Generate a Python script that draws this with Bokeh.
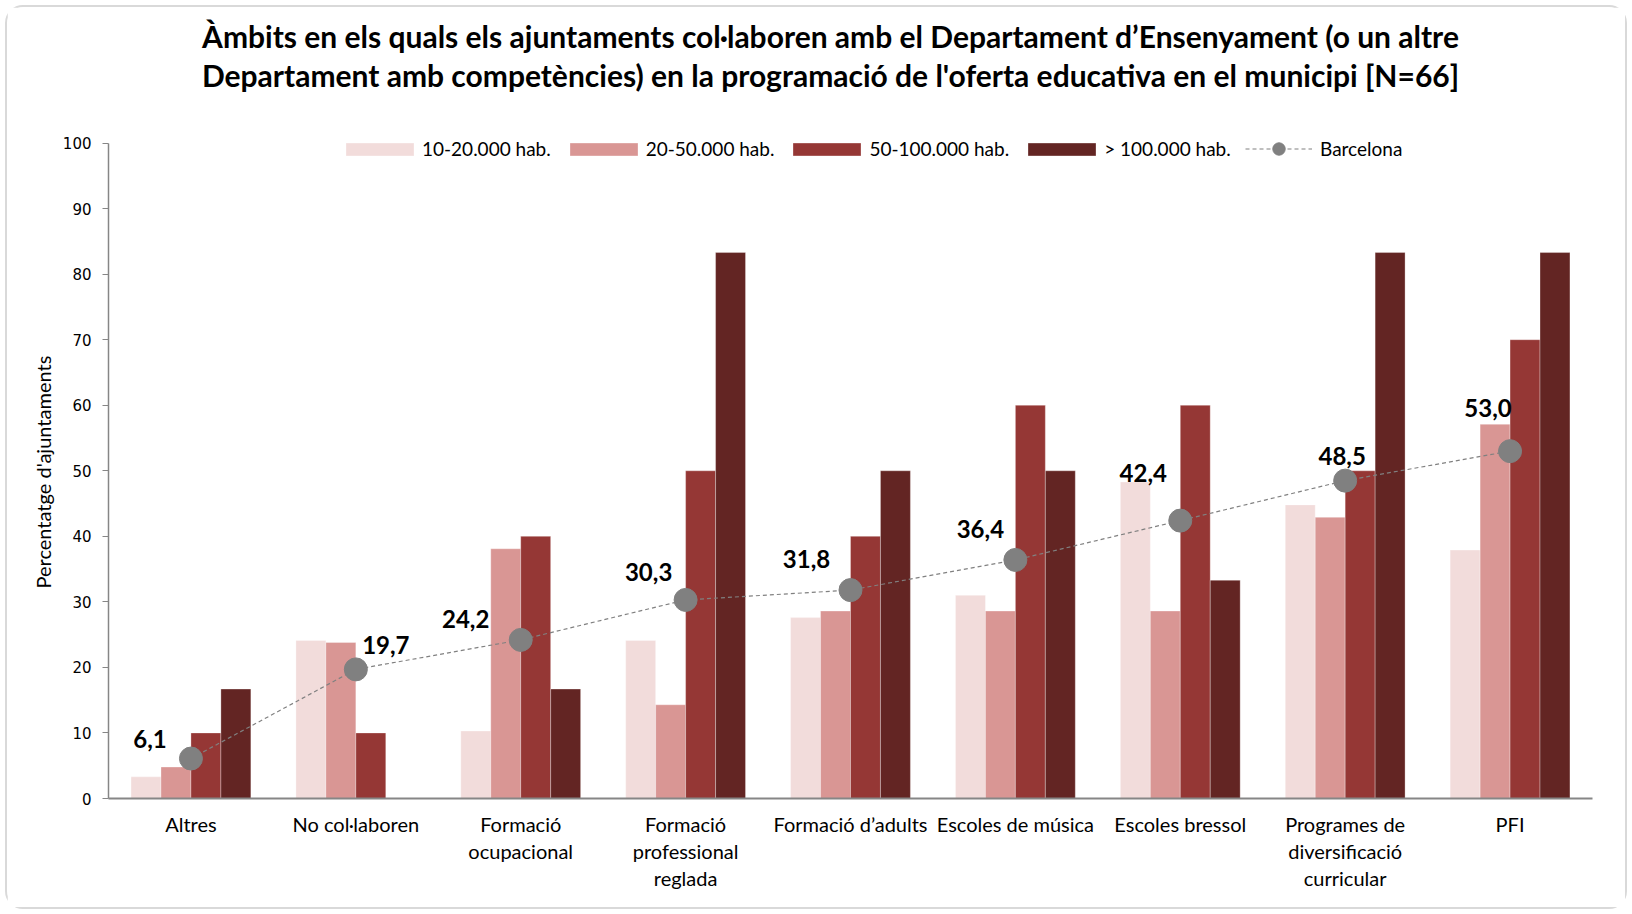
from bokeh.plotting import figure
from bokeh.models import ColumnDataSource, Label, Legend, LegendItem, FixedTicker, LinearAxis, Title
from bokeh.embed import file_html
from bokeh.resources import INLINE
from bokeh.core.properties import value

categories = ["Altres", "No col·laboren", "Formació ocupacional", "Formació professional reglada",
              "Formació d’adults", "Escoles de música", "Escoles bressol",
              "Programes de diversificació curricular", "PFI"]
tick_labels = ["Altres", "No col·laboren", "Formació\nocupacional", "Formació\nprofessional\nreglada",
               "Formació d’adults", "Escoles de música", "Escoles bressol",
               "Programes de\ndiversificació\ncurricular", "PFI"]
hab_10_20 = [3.3, 24.1, 10.3, 24.1, 27.6, 31.0, 48.3, 44.8, 37.9]
hab_20_50 = [4.8, 23.8, 38.1, 14.3, 28.6, 28.6, 28.6, 42.9, 57.1]
hab_50_100 = [10.0, 10.0, 40.0, 50.0, 40.0, 60.0, 60.0, 50.0, 70.0]
hab_100 = [16.7, 0.0, 16.7, 83.3, 50.0, 50.0, 33.3, 83.3, 83.3]
barcelona = [6.1, 19.7, 24.2, 30.3, 31.8, 36.4, 42.4, 48.5, 53.0]
series_names = ["10-20.000 hab.", "20-50.000 hab.", "50-100.000 hab.", "> 100.000 hab."]
line_name = "Barcelona"
title_lines = ["Àmbits en els quals els ajuntaments col·laboren amb el Departament d’Ensenyament (o un altre",
               "Departament amb competències) en la programació de l'oferta educativa en el municipi [N=66]"]
y_title = "Percentatge d'ajuntaments"
y_ticks = [0, 10, 20, 30, 40, 50, 60, 70, 80, 90, 100]

colors = ["#F2DCDB", "#D99694", "#953735", "#632523"]
label_dx = [-41, 30, -55, -37, -44, -35, -37, -3, -22]
label_dy = [-20, -24, -21, -28, -31, -31, -48, -25, -43]

n = len(categories)
xpos = [i + 0.5 for i in range(n)]          # category centres on a numeric scale
offsets = [-0.2725, -0.0908, 0.0908, 0.2725]
bar_w = 0.1816

data = dict(x=xpos, s1=hab_10_20, s2=hab_20_50, s3=hab_50_100, s4=hab_100,
            bcn=barcelona, lab=[f"{v:.1f}".replace(".", ",") for v in barcelona],
            dx=label_dx, dy=label_dy)
for k, off in enumerate(offsets):
    data[f"x{k+1}"] = [x + off for x in xpos]
src = ColumnDataSource(data)

FONT = "Lato"
W, H = 1622, 904
MB_L, MB_R, MB_B = 101, 37, 113
frame_h = H - MB_B            # frame runs from canvas top to the x axis
px_per_unit = (frame_h - 135.6) / 100.0
y_top = frame_h / px_per_unit

p = figure(x_range=(0, n), y_range=(0, y_top), width=W, height=H,
           output_backend="svg", toolbar_location=None,
           min_border_left=MB_L, min_border_right=MB_R, min_border_top=0, min_border_bottom=MB_B)
p.styles = {"border": "2px solid #D9D9D9", "border-radius": "18px",
            "margin-left": "5px", "margin-top": "5px"}
p.outline_line_color = None
p.xgrid.grid_line_color = None
p.ygrid.grid_line_color = None

bar_rs = []
for k, c in enumerate(colors):
    r = p.vbar(x=f"x{k+1}", top=f"s{k+1}", width=bar_w, source=src,
               fill_color=c, line_color="white", line_width=0.6, line_alpha=0.5)
    bar_rs.append(r)

lr = p.line(x="x", y="bcn", source=src, line_color="#808080", line_width=1.2, line_dash="4 3")
sr = p.scatter(x="x", y="bcn", source=src, size=23, fill_color="#808080", line_color="#808080")
p.text(x="x", y="bcn", text="lab", source=src, x_offset="dx", y_offset="dy",
       text_align="center", text_baseline="middle", text_font=value(FONT),
       text_font_style="bold", text_font_size="24px", text_color="black")

legend_style = dict(orientation="horizontal", padding=0, margin=0, spacing=10,
                    border_line_color=None, background_fill_alpha=0, label_height=20,
                    label_text_font=FONT, label_text_font_size="19px", label_text_color="black")
leg = Legend(items=[LegendItem(label=nm, renderers=[r]) for nm, r in zip(series_names, bar_rs)],
             location=(229, 638), label_standoff=0, glyph_width=85, glyph_height=16, **legend_style)
p.add_layout(leg)
leg2 = Legend(items=[LegendItem(label=line_name, renderers=[lr, sr])],
              location=(1137, 634), label_standoff=8, glyph_width=67, glyph_height=31, **legend_style)
p.add_layout(leg2)

# y axis
p.yaxis.ticker = FixedTicker(ticks=y_ticks)
p.yaxis.bounds = (0, 100)
p.yaxis.major_label_text_font = "DejaVu Sans"
p.yaxis.major_label_text_font_size = "15px"
p.yaxis.major_label_text_color = "black"
p.yaxis.major_tick_out = 6
p.yaxis.major_tick_in = 0
p.yaxis.minor_tick_line_color = None
p.yaxis.major_label_standoff = 11
p.yaxis.axis_line_color = "#868686"
p.yaxis.major_tick_line_color = "#868686"
p.yaxis.axis_line_width = 1.5

p.add_layout(Title(text=y_title, align="left", offset=210, vertical_align="middle",
                   text_font=FONT, text_font_size="20px", text_font_style="normal",
                   text_color="black", standoff=8), "left")

# x axis: one axis per text line of the category labels
split = [t.split("\n") for t in tick_labels]
nlines = max(len(s) for s in split)
xaxes = [p.xaxis[0]]
for k in range(1, nlines):
    ax = LinearAxis()
    p.add_layout(ax, "below")
    xaxes.append(ax)
for k, ax in enumerate(xaxes):
    ax.ticker = FixedTicker(ticks=xpos)
    ax.major_label_overrides = {x: (s[k] if k < len(s) else " ") for x, s in zip(xpos, split)}
    ax.major_tick_line_color = None
    ax.minor_tick_line_color = None
    ax.major_tick_out = 0
    ax.major_tick_in = 0
    ax.major_label_text_font = FONT
    ax.major_label_text_font_size = "20px"
    ax.major_label_text_color = "black"
    if k == 0:
        ax.axis_line_color = "#868686"
        ax.axis_line_width = 2
        ax.major_label_standoff = 13
    else:
        ax.axis_line_color = None
        ax.major_label_standoff = 0

# title (inside the frame's top area)
for i, t in enumerate(title_lines):
    p.add_layout(Label(x=722, y=frame_h - 28 - 39 * i, x_units="screen", y_units="screen",
                       text=t, text_align="center", text_baseline="middle",
                       text_font=FONT, text_font_style="bold", text_font_size="30px",
                       text_color="black"))

open("out.html", "w").write(file_html(p, INLINE))
